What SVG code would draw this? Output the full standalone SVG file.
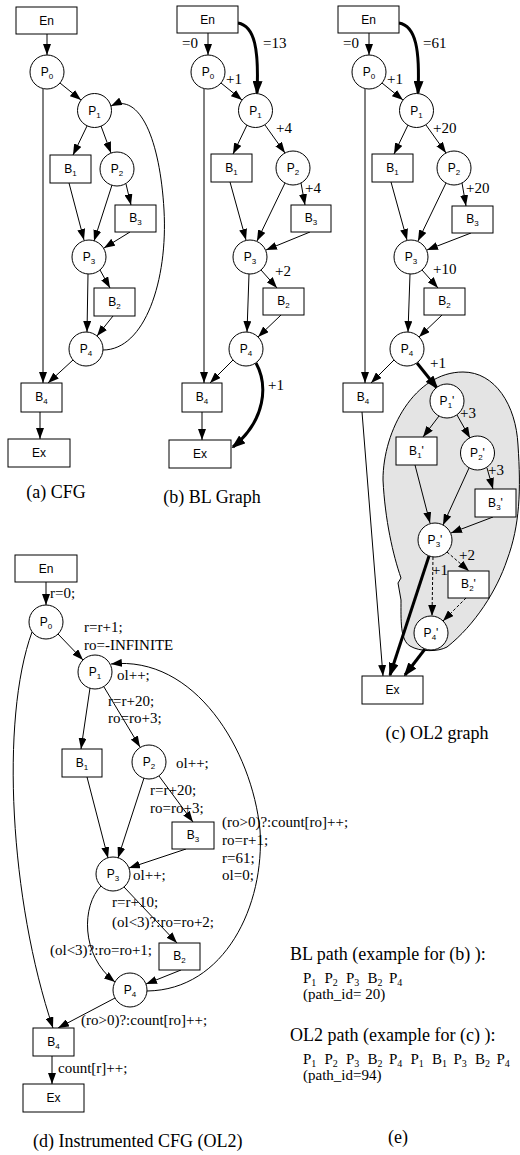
<svg xmlns="http://www.w3.org/2000/svg" width="520" height="1155" viewBox="0 0 520 1155">
<style>
.n{fill:#fff;stroke:#000;stroke-width:1}
.l{font-family:"Liberation Sans",Arial,sans-serif;font-size:12px;text-anchor:middle;fill:#000}
.s{font-size:8px}
.t{font-family:"Liberation Serif","Times New Roman",serif;font-size:15px;fill:#000}
.c{font-family:"Liberation Serif","Times New Roman",serif;font-size:18px;fill:#000}
.ps{font-size:10px}
.e{stroke:#000;stroke-width:1;fill:none;marker-end:url(#ah)}
.k{stroke:#000;stroke-width:3;fill:none;marker-end:url(#ahb)}
.d{stroke-dasharray:3,2}
.blob{fill:#e4e4e4;stroke:#000;stroke-width:1}
</style>
<defs>
<marker id="ah" markerWidth="11" markerHeight="8" refX="11" refY="4" orient="auto" markerUnits="userSpaceOnUse"><path d="M0,0 L11,4 L0,8 z" fill="#000"/></marker>
<marker id="ahb" markerWidth="14" markerHeight="10" refX="12" refY="5" orient="auto" markerUnits="userSpaceOnUse"><path d="M0,0 L14,5 L0,10 z" fill="#000"/></marker>
</defs>

<!-- (c) background region -->
<path id="c-region" class="blob" d="M463,372 C495,372 516,405 518,445 C521,490 520,525 507,560 C497,590 475,625 447,647 C438,652 420,652 410,646 C400,640 401,620 401,600 L398,583 L401,578 C393,555 385,520 383,480 C383,430 415,372 463,372 Z"/>

<!-- connectors -->
<g id="connectors">
<!-- (a) -->
<line class="e" x1="47" y1="34" x2="47" y2="55"/>
<line class="e" x1="60" y1="83" x2="81" y2="100"/>
<line class="e" x1="87" y1="126" x2="73" y2="155"/>
<line class="e" x1="101" y1="126" x2="111" y2="153"/>
<line class="e" x1="69" y1="183" x2="84" y2="240"/>
<line class="e" x1="112" y1="185" x2="94" y2="241"/>
<line class="e" x1="126" y1="184" x2="131" y2="205"/>
<line class="e" x1="130" y1="232" x2="104" y2="248"/>
<line class="e" x1="100" y1="270" x2="110" y2="288"/>
<line class="e" x1="88" y1="274" x2="87" y2="332"/>
<line class="e" x1="113" y1="316" x2="97" y2="336"/>
<line class="e" x1="73" y1="360" x2="48" y2="383"/>
<line class="e" x1="43" y1="89" x2="43" y2="383"/>
<line class="e" x1="40" y1="412" x2="40" y2="439"/>
<path class="e" d="M103,350 C145,350 168,280 164,210 C160,140 140,92 111,106"/>
<!-- (b) -->
<line class="e" x1="208" y1="33" x2="208" y2="55"/>
<path class="k" d="M238,23 C255,26 259,50 257,93"/>
<line class="e" x1="221" y1="83" x2="242" y2="100"/>
<line class="e" x1="247" y1="125" x2="233" y2="154"/>
<line class="e" x1="265" y1="125" x2="285" y2="153"/>
<line class="e" x1="230" y1="182" x2="246" y2="240"/>
<line class="e" x1="285" y1="183" x2="257" y2="241"/>
<line class="e" x1="301" y1="183" x2="305" y2="205"/>
<line class="e" x1="310" y1="232" x2="266" y2="250"/>
<line class="e" x1="261" y1="270" x2="277" y2="288"/>
<line class="e" x1="249" y1="274" x2="247" y2="332"/>
<line class="e" x1="281" y1="315" x2="258" y2="337"/>
<line class="e" x1="233" y1="360" x2="210" y2="383"/>
<line class="e" x1="204" y1="89" x2="204" y2="383"/>
<line class="e" x1="202" y1="412" x2="202" y2="440"/>
<path class="k" d="M256,363 C268,385 266,420 233,447"/>
<!-- (c) -->
<line class="e" x1="369" y1="33" x2="369" y2="55"/>
<path class="k" d="M399,23 C416,26 420,50 418,93"/>
<line class="e" x1="382" y1="83" x2="403" y2="100"/>
<line class="e" x1="408" y1="125" x2="394" y2="154"/>
<line class="e" x1="426" y1="125" x2="446" y2="153"/>
<line class="e" x1="391" y1="182" x2="407" y2="240"/>
<line class="e" x1="446" y1="183" x2="418" y2="241"/>
<line class="e" x1="462" y1="183" x2="466" y2="206"/>
<line class="e" x1="471" y1="233" x2="427" y2="250"/>
<line class="e" x1="422" y1="270" x2="438" y2="288"/>
<line class="e" x1="410" y1="274" x2="408" y2="332"/>
<line class="e" x1="442" y1="315" x2="419" y2="337"/>
<line class="e" x1="394" y1="360" x2="371" y2="383"/>
<line class="e" x1="365" y1="89" x2="365" y2="383"/>
<line class="e" x1="362" y1="412" x2="383" y2="676"/>
<line class="k" x1="417" y1="363" x2="437" y2="388"/>
<line class="e" x1="439" y1="416" x2="423" y2="437"/>
<line class="e" x1="457" y1="415" x2="470" y2="438"/>
<line class="e" x1="415" y1="465" x2="430" y2="523"/>
<line class="e" x1="469" y1="468" x2="443" y2="525"/>
<line class="e" x1="487" y1="468" x2="493" y2="489"/>
<line class="e" x1="493" y1="517" x2="451" y2="533"/>
<line class="e d" x1="447" y1="552" x2="469" y2="571"/>
<line class="e d" x1="433" y1="557" x2="432" y2="616"/>
<line class="e d" x1="466" y1="598" x2="443" y2="621"/>
<line class="k" x1="429" y1="556" x2="390" y2="675"/>
<line class="k" x1="425" y1="649" x2="405" y2="675"/>
<!-- (d) -->
<line class="e" x1="46" y1="582" x2="46" y2="605"/>
<line class="e" x1="58" y1="634" x2="83" y2="660"/>
<line class="e" x1="90" y1="688" x2="81" y2="749"/>
<line class="e" x1="104" y1="687" x2="140" y2="747"/>
<line class="e" x1="87" y1="777" x2="108" y2="858"/>
<line class="e" x1="144" y1="778" x2="118" y2="858"/>
<line class="e" x1="159" y1="776" x2="193" y2="822"/>
<line class="e" x1="186" y1="849" x2="129" y2="868"/>
<line class="e" x1="124" y1="887" x2="177" y2="943"/>
<path class="e" d="M101,886 C82,905 80,955 115,982"/>
<line class="e" x1="181" y1="970" x2="146" y2="984"/>
<line class="e" x1="115" y1="998" x2="58" y2="1028"/>
<path class="e" d="M32,632 C0,720 10,900 53,1028"/>
<line class="e" x1="52" y1="1056" x2="52" y2="1084"/>
<path class="e" d="M147,991 C225,990 265,905 260,830 C252,750 195,655 111,664"/>
</g>

<!-- (a) CFG nodes -->
<g id="a-En"><rect class="n" x="16" y="7" width="61" height="27"/><text class="l" x="46.5" y="25">En</text></g>
<g id="a-P0"><circle class="n" cx="47" cy="72" r="17"/><text class="l" x="47" y="76">P<tspan class="s" dy="3">0</tspan></text></g>
<g id="a-P1"><circle class="n" cx="94.5" cy="110.5" r="17"/><text class="l" x="94.5" y="114.5">P<tspan class="s" dy="3">1</tspan></text></g>
<g id="a-B1"><rect class="n" x="50" y="155" width="41" height="28"/><text class="l" x="70.5" y="173">B<tspan class="s" dy="3">1</tspan></text></g>
<g id="a-P2"><circle class="n" cx="117" cy="169" r="17"/><text class="l" x="117" y="173">P<tspan class="s" dy="3">2</tspan></text></g>
<g id="a-B3"><rect class="n" x="115" y="205" width="41" height="27"/><text class="l" x="135.5" y="222">B<tspan class="s" dy="3">3</tspan></text></g>
<g id="a-P3"><circle class="n" cx="89" cy="257" r="17"/><text class="l" x="89" y="261">P<tspan class="s" dy="3">3</tspan></text></g>
<g id="a-B2"><rect class="n" x="94" y="288" width="41" height="28"/><text class="l" x="114.5" y="306">B<tspan class="s" dy="3">2</tspan></text></g>
<g id="a-P4"><circle class="n" cx="86" cy="349" r="17"/><text class="l" x="86" y="353">P<tspan class="s" dy="3">4</tspan></text></g>
<g id="a-B4"><rect class="n" x="21" y="383" width="41" height="29"/><text class="l" x="41.5" y="401">B<tspan class="s" dy="3">4</tspan></text></g>
<g id="a-Ex"><rect class="n" x="8" y="439" width="62" height="28"/><text class="l" x="39" y="457">Ex</text></g>
<text class="c" x="56" y="498" text-anchor="middle">(a) CFG</text>

<!-- (b) BL graph nodes -->
<g id="b-En"><rect class="n" x="177" y="6" width="61" height="27"/><text class="l" x="207.5" y="24">En</text></g>
<g id="b-P0"><circle class="n" cx="208" cy="72" r="17"/><text class="l" x="208" y="76">P<tspan class="s" dy="3">0</tspan></text></g>
<g id="b-P1"><circle class="n" cx="255.5" cy="110.5" r="17"/><text class="l" x="255.5" y="114.5">P<tspan class="s" dy="3">1</tspan></text></g>
<g id="b-B1"><rect class="n" x="211" y="154" width="41" height="28"/><text class="l" x="231.5" y="172">B<tspan class="s" dy="3">1</tspan></text></g>
<g id="b-P2"><circle class="n" cx="293" cy="168" r="17"/><text class="l" x="293" y="172">P<tspan class="s" dy="3">2</tspan></text></g>
<g id="b-B3"><rect class="n" x="291" y="205" width="40" height="27"/><text class="l" x="311" y="222">B<tspan class="s" dy="3">3</tspan></text></g>
<g id="b-P3"><circle class="n" cx="250" cy="257" r="17"/><text class="l" x="250" y="261">P<tspan class="s" dy="3">3</tspan></text></g>
<g id="b-B2"><rect class="n" x="263" y="288" width="41" height="27"/><text class="l" x="283.5" y="305">B<tspan class="s" dy="3">2</tspan></text></g>
<g id="b-P4"><circle class="n" cx="246" cy="349" r="17"/><text class="l" x="246" y="353">P<tspan class="s" dy="3">4</tspan></text></g>
<g id="b-B4"><rect class="n" x="182" y="383" width="40" height="29"/><text class="l" x="202" y="401">B<tspan class="s" dy="3">4</tspan></text></g>
<g id="b-Ex"><rect class="n" x="169" y="440" width="62" height="28"/><text class="l" x="200" y="458">Ex</text></g>
<g id="b-labels">
<text class="t" x="182" y="48">=0</text>
<text class="t" x="263" y="48">=13</text>
<text class="t" x="226" y="84">+1</text>
<text class="t" x="276" y="133">+4</text>
<text class="t" x="305" y="193">+4</text>
<text class="t" x="275" y="276">+2</text>
<text class="t" x="268" y="390">+1</text>
</g>
<text class="c" x="212" y="503" text-anchor="middle">(b) BL Graph</text>

<!-- (c) OL2 graph nodes -->
<g id="c-En"><rect class="n" x="338" y="6" width="61" height="27"/><text class="l" x="368.5" y="24">En</text></g>
<g id="c-P0"><circle class="n" cx="369" cy="72" r="17"/><text class="l" x="369" y="76">P<tspan class="s" dy="3">0</tspan></text></g>
<g id="c-P1"><circle class="n" cx="416.5" cy="110.5" r="17"/><text class="l" x="416.5" y="114.5">P<tspan class="s" dy="3">1</tspan></text></g>
<g id="c-B1"><rect class="n" x="372" y="154" width="41" height="28"/><text class="l" x="392.5" y="172">B<tspan class="s" dy="3">1</tspan></text></g>
<g id="c-P2"><circle class="n" cx="454" cy="168" r="17"/><text class="l" x="454" y="172">P<tspan class="s" dy="3">2</tspan></text></g>
<g id="c-B3"><rect class="n" x="452" y="206" width="41" height="27"/><text class="l" x="472.5" y="223">B<tspan class="s" dy="3">3</tspan></text></g>
<g id="c-P3"><circle class="n" cx="411" cy="257" r="17"/><text class="l" x="411" y="261">P<tspan class="s" dy="3">3</tspan></text></g>
<g id="c-B2"><rect class="n" x="424" y="288" width="41" height="27"/><text class="l" x="444.5" y="305">B<tspan class="s" dy="3">2</tspan></text></g>
<g id="c-P4"><circle class="n" cx="407" cy="349" r="17"/><text class="l" x="407" y="353">P<tspan class="s" dy="3">4</tspan></text></g>
<g id="c-B4"><rect class="n" x="343" y="383" width="40" height="29"/><text class="l" x="363" y="401">B<tspan class="s" dy="3">4</tspan></text></g>
<g id="c-P1p"><circle class="n" cx="447" cy="401" r="17"/><text class="l" x="447" y="405">P<tspan class="s" dy="3">1</tspan><tspan dy="-3">'</tspan></text></g>
<g id="c-B1p"><rect class="n" x="396" y="437" width="41" height="28"/><text class="l" x="416.5" y="455">B<tspan class="s" dy="3">1</tspan><tspan dy="-3">'</tspan></text></g>
<g id="c-P2p"><circle class="n" cx="477.5" cy="453" r="17"/><text class="l" x="477.5" y="457">P<tspan class="s" dy="3">2</tspan><tspan dy="-3">'</tspan></text></g>
<g id="c-B3p"><rect class="n" x="475" y="489" width="41" height="28"/><text class="l" x="495.5" y="507">B<tspan class="s" dy="3">3</tspan><tspan dy="-3">'</tspan></text></g>
<g id="c-P3p"><circle class="n" cx="435" cy="540" r="17"/><text class="l" x="435" y="544">P<tspan class="s" dy="3">3</tspan><tspan dy="-3">'</tspan></text></g>
<g id="c-B2p"><rect class="n" x="448" y="571" width="41" height="27"/><text class="l" x="468.5" y="588">B<tspan class="s" dy="3">2</tspan><tspan dy="-3">'</tspan></text></g>
<g id="c-P4p"><circle class="n" cx="431" cy="633" r="17"/><text class="l" x="431" y="637">P<tspan class="s" dy="3">4</tspan><tspan dy="-3">'</tspan></text></g>
<g id="c-Ex"><rect class="n" x="362" y="676" width="61" height="28"/><text class="l" x="392.5" y="694">Ex</text></g>
<g id="c-labels">
<text class="t" x="343" y="48">=0</text>
<text class="t" x="423" y="48">=61</text>
<text class="t" x="387" y="84">+1</text>
<text class="t" x="433" y="133">+20</text>
<text class="t" x="466" y="193">+20</text>
<text class="t" x="433" y="274">+10</text>
<text class="t" x="430" y="368">+1</text>
<text class="t" x="460" y="418">+3</text>
<text class="t" x="488" y="475">+3</text>
<text class="t" x="459" y="560">+2</text>
<text class="t" x="432" y="575">+1</text>
</g>
<text class="c" x="437" y="739" text-anchor="middle">(c) OL2 graph</text>

<!-- (d) Instrumented CFG nodes -->
<g id="d-En"><rect class="n" x="15" y="555" width="62" height="27"/><text class="l" x="46" y="573">En</text></g>
<g id="d-P0"><circle class="n" cx="46" cy="622" r="17"/><text class="l" x="46" y="626">P<tspan class="s" dy="3">0</tspan></text></g>
<g id="d-P1"><circle class="n" cx="95" cy="672" r="17"/><text class="l" x="95" y="676">P<tspan class="s" dy="3">1</tspan></text></g>
<g id="d-B1"><rect class="n" x="62" y="749" width="40" height="28"/><text class="l" x="82" y="767">B<tspan class="s" dy="3">1</tspan></text></g>
<g id="d-P2"><circle class="n" cx="149" cy="762" r="17"/><text class="l" x="149" y="766">P<tspan class="s" dy="3">2</tspan></text></g>
<g id="d-B3"><rect class="n" x="172" y="822" width="42" height="27"/><text class="l" x="193" y="839">B<tspan class="s" dy="3">3</tspan></text></g>
<g id="d-P3"><circle class="n" cx="113" cy="874" r="17"/><text class="l" x="113" y="878">P<tspan class="s" dy="3">3</tspan></text></g>
<g id="d-B2"><rect class="n" x="159" y="943" width="41" height="27"/><text class="l" x="179.5" y="960">B<tspan class="s" dy="3">2</tspan></text></g>
<g id="d-P4"><circle class="n" cx="130" cy="990" r="17"/><text class="l" x="130" y="994">P<tspan class="s" dy="3">4</tspan></text></g>
<g id="d-B4"><rect class="n" x="33" y="1028" width="41" height="28"/><text class="l" x="53.5" y="1046">B<tspan class="s" dy="3">4</tspan></text></g>
<g id="d-Ex"><rect class="n" x="23" y="1084" width="61" height="28"/><text class="l" x="53.5" y="1102">Ex</text></g>
<g id="d-labels">
<text class="t" x="50" y="598">r=0;</text>
<text class="t" x="84" y="632">r=r+1;</text>
<text class="t" x="84" y="650">ro=-INFINITE</text>
<text class="t" x="117" y="680">ol++;</text>
<text class="t" x="108" y="706">r=r+20;</text>
<text class="t" x="108" y="723">ro=ro+3;</text>
<text class="t" x="176" y="768">ol++;</text>
<text class="t" x="150" y="795">r=r+20;</text>
<text class="t" x="150" y="813">ro=ro+3;</text>
<text class="t" x="222" y="827">(ro&gt;0)?:count[ro]++;</text>
<text class="t" x="222" y="845">ro=r+1;</text>
<text class="t" x="222" y="863">r=61;</text>
<text class="t" x="222" y="880">ol=0;</text>
<text class="t" x="133" y="880">ol++;</text>
<text class="t" x="112" y="907">r=r+10;</text>
<text class="t" x="112" y="927">(ol&lt;3)?:ro=ro+2;</text>
<text class="t" x="50" y="955">(ol&lt;3)?:ro=ro+1;</text>
<text class="t" x="81" y="1025">(ro&gt;0)?:count[ro]++;</text>
<text class="t" x="58" y="1073">count[r]++;</text>
</g>
<text class="c" x="33" y="1147">(d) Instrumented CFG (OL2)</text>

<!-- (e) paths -->
<g id="e-paths">
<text class="c" x="290" y="960">BL path (example for (b) ):</text>
<text class="t" y="983"><tspan x="303">P</tspan><tspan class="ps" dy="3">1</tspan><tspan x="324.5" dy="-3">P</tspan><tspan class="ps" dy="3">2</tspan><tspan x="346" dy="-3">P</tspan><tspan class="ps" dy="3">3</tspan><tspan x="367.5" dy="-3">B</tspan><tspan class="ps" dy="3">2</tspan><tspan x="389" dy="-3">P</tspan><tspan class="ps" dy="3">4</tspan></text>
<text class="t" x="303" y="999">(path_id= 20)</text>
<text class="c" x="290" y="1041">OL2 path (example for (c) ):</text>
<text class="t" y="1064"><tspan x="303">P</tspan><tspan class="ps" dy="3">1</tspan><tspan x="324.5" dy="-3">P</tspan><tspan class="ps" dy="3">2</tspan><tspan x="346" dy="-3">P</tspan><tspan class="ps" dy="3">3</tspan><tspan x="367.5" dy="-3">B</tspan><tspan class="ps" dy="3">2</tspan><tspan x="389" dy="-3">P</tspan><tspan class="ps" dy="3">4</tspan><tspan x="410.5" dy="-3">P</tspan><tspan class="ps" dy="3">1</tspan><tspan x="432" dy="-3">B</tspan><tspan class="ps" dy="3">1</tspan><tspan x="453.5" dy="-3">P</tspan><tspan class="ps" dy="3">3</tspan><tspan x="475" dy="-3">B</tspan><tspan class="ps" dy="3">2</tspan><tspan x="496.5" dy="-3">P</tspan><tspan class="ps" dy="3">4</tspan></text>
<text class="t" x="303" y="1080">(path_id=94)</text>
<text class="c" x="398" y="1143" text-anchor="middle">(e)</text>
</g>
</svg>
